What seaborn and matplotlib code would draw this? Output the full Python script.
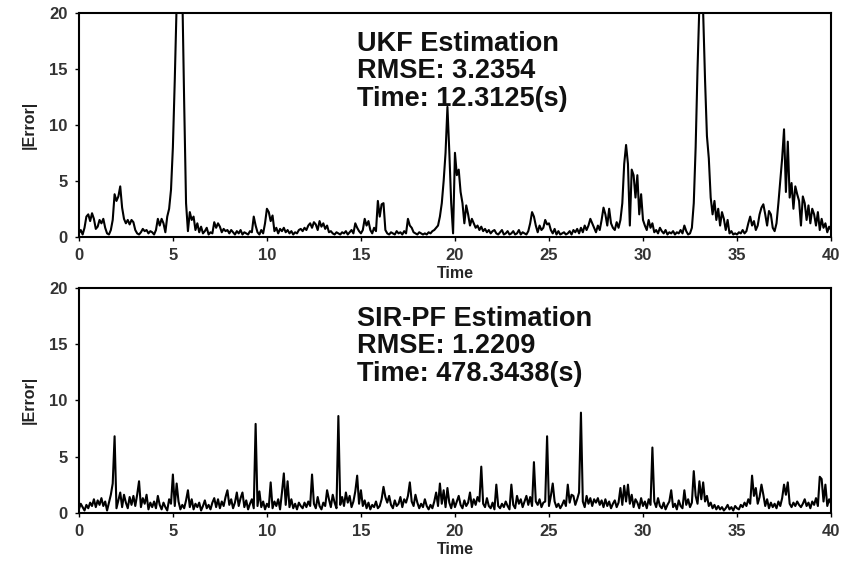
import numpy as np
import pandas as pd
import matplotlib
matplotlib.use("Agg")
import matplotlib.pyplot as plt
import seaborn as sns


LINEWIDTH = 1.5
LABEL_SIZE = 11.5
AXIS_TICK_SIZE = 12
NOTE_SIZE = 19.5

# sampling of the error signals, 0.1 s
time = np.round(np.arange(0, 401) * 0.1, 1)

ukf_error = [
    0.3, 0.6, 0.2, 0.8, 1.8, 2.0, 1.4, 2.1, 1.6, 0.7,
    0.9, 1.5, 1.2, 1.6, 0.8, 0.3, 0.2, 0.6, 1.5, 3.8,
    3.2, 3.6, 4.5, 2.6, 1.6, 1.2, 1.5, 1.1, 1.5, 1.3,
    0.6, 0.3, 0.2, 0.4, 0.7, 0.5, 0.6, 0.3, 0.5, 0.4,
    0.2, 0.6, 1.6, 1.0, 1.6, 1.2, 0.4, 1.8, 2.5, 4.2,
    8.0, 14.0, 21.0, 25.0, 24.0, 22.0, 12.0, 3.0, 0.5, 2.2,
    1.5, 1.8, 0.6, 1.2, 0.4, 0.9, 0.3, 0.5, 0.8, 0.2,
    0.4, 0.3, 1.3, 0.8, 1.2, 0.9, 0.4, 0.7, 0.5, 0.6,
    0.3, 0.6, 0.4, 0.2, 0.5, 0.3, 0.6, 0.2, 0.4, 0.3,
    0.2, 0.5, 0.4, 1.8, 1.0, 0.4, 0.2, 0.6, 0.3, 1.2,
    2.5, 2.2, 1.4, 1.9, 0.5, 0.8, 0.3, 0.7, 0.5, 0.8,
    0.4, 0.6, 0.3, 0.5, 0.2, 0.4, 0.3, 0.6, 0.7, 0.5,
    0.8, 0.6, 1.0, 1.2, 0.8, 1.3, 1.1, 0.6, 1.4, 0.9,
    1.2, 0.7, 1.0, 0.4, 0.5, 0.3, 0.2, 0.4, 0.3, 0.2,
    0.4, 0.3, 0.5, 0.2, 0.4, 0.6, 0.3, 1.2, 0.8, 0.5,
    0.3, 0.6, 1.6, 1.0, 1.4, 0.6, 0.3, 0.8, 0.5, 3.2,
    1.8, 2.9, 3.0, 0.6, 0.3, 0.2, 0.4, 0.3, 0.2, 0.5,
    0.3, 0.4, 0.2, 0.5, 0.3, 1.6, 1.0, 0.8, 0.4, 0.3,
    0.2, 0.4, 0.3, 0.2, 0.3, 0.2, 0.4, 0.3, 0.5, 0.6,
    0.8, 1.0, 1.8, 3.0, 5.0, 7.5, 11.6, 7.6, 3.0, 0.3,
    7.5, 5.5, 6.0, 4.0, 3.0, 1.2, 2.8, 2.0, 1.0, 1.6,
    1.2, 0.8, 1.0, 0.6, 0.9, 0.5, 0.7, 0.4, 0.6, 0.3,
    0.5, 0.6, 0.3, 0.2, 0.4, 0.6, 0.2, 0.3, 0.5, 0.2,
    0.3, 0.5, 0.2, 0.3, 0.6, 0.2, 0.4, 0.3, 0.2, 0.5,
    1.2, 2.2, 1.8, 1.0, 0.4, 1.0, 0.6, 0.8, 1.5, 1.1,
    1.2, 0.6, 0.3, 0.7, 0.2, 0.5, 0.2, 0.3, 0.4, 0.2,
    0.3, 0.5, 0.2, 0.6, 0.4, 0.7, 0.3, 0.8, 0.4, 1.0,
    0.6, 1.0, 1.6, 1.2, 0.8, 0.4, 1.0, 0.6, 1.5, 2.6,
    2.0, 1.0, 2.5, 1.2, 0.8, 0.6, 1.3, 0.8, 1.5, 3.0,
    6.5, 8.2, 6.5, 1.0, 6.0, 5.5, 3.5, 5.5, 2.0, 3.8,
    1.5, 1.0, 0.6, 1.5, 0.8, 1.2, 0.4, 0.6, 0.3, 0.8,
    0.5, 0.3, 0.6, 0.2, 0.4, 0.3, 0.5, 0.2, 0.4, 0.3,
    0.6, 0.3, 1.0, 0.5, 0.2, 0.3, 0.8, 3.0, 8.0, 15.0,
    21.0, 24.0, 20.0, 14.0, 9.0, 7.0, 3.5, 2.0, 3.2, 1.5,
    2.5, 1.0, 2.2, 1.6, 0.6, 1.5, 0.3, 0.5, 0.2, 0.3,
    0.2, 0.4, 0.3, 0.6, 0.3, 0.5, 1.2, 1.8, 1.0, 1.4,
    0.6, 1.0, 2.0, 2.6, 2.9, 2.0, 1.0, 2.3, 2.0, 0.8,
    0.5, 1.2, 3.0, 5.0, 7.0, 9.6, 4.0, 8.5, 3.5, 4.8,
    2.5, 4.5, 3.8, 3.2, 1.0, 3.6, 3.0, 1.5, 2.8, 1.2,
    2.5, 2.0, 1.0, 2.2, 0.6, 1.6, 0.8, 1.2, 0.4, 0.9,
    0.6,
]

pf_error = [
    0.3, 0.8, 0.5, 0.2, 0.7, 0.4, 0.9, 0.6, 1.2, 0.5,
    1.1, 0.7, 1.3, 0.6, 1.0, 0.2, 0.9, 1.6, 2.6, 6.8,
    0.4, 1.1, 1.8, 0.5, 1.6, 0.9, 0.4, 1.4, 0.7, 1.5,
    0.6, 1.6, 2.8, 0.5, 1.3, 0.8, 1.6, 0.3, 0.9, 0.5,
    1.0, 0.4, 1.5, 0.7, 0.3, 0.9, 0.5, 0.2, 1.2, 0.8,
    3.4, 0.6, 2.6, 1.0, 0.3, 0.7, 0.4, 1.1, 2.0, 0.5,
    1.2, 0.3, 0.8, 0.5, 0.9, 0.2, 0.6, 1.1, 0.4, 0.7,
    0.3, 0.9, 1.3, 0.5, 1.2, 0.4, 1.0, 0.6, 1.4, 2.0,
    0.7, 1.2, 0.4, 0.9, 1.8, 0.6, 1.3, 1.8, 0.5, 1.1,
    0.3, 0.8, 1.2, 0.4, 7.9, 0.6, 1.9, 0.5, 1.0, 0.3,
    0.8, 0.5, 2.7, 0.4, 1.0, 0.6, 1.2, 0.3, 1.8, 3.5,
    0.7, 2.8, 0.5, 1.2, 0.4, 0.8, 0.3, 0.9, 0.6, 0.4,
    0.9, 0.5, 1.0, 0.6, 3.4, 0.8, 0.4, 1.4, 0.6, 0.3,
    0.9, 0.6, 2.0, 1.2, 0.5, 1.6, 0.9, 0.4, 8.6, 0.7,
    1.4, 0.6, 1.8, 0.9, 1.5, 0.5, 1.0, 1.9, 3.3, 0.8,
    2.0, 0.6, 1.1, 0.4, 0.9, 0.3, 0.7, 0.5, 1.0, 0.4,
    0.6, 1.2, 2.3, 1.4, 0.9, 1.5, 0.7, 0.4, 1.1, 0.6,
    0.8, 1.4, 0.5, 1.2, 0.9, 1.5, 2.7, 1.0, 0.6, 1.6,
    0.9, 0.4, 0.8, 0.5, 1.2, 0.6, 0.3, 0.7, 0.4, 1.0,
    1.8, 0.6, 2.6, 0.8, 2.0, 0.5, 2.2, 0.9, 0.4, 1.2,
    0.5, 1.0, 1.5, 0.7, 0.4, 1.1, 0.6, 0.9, 1.8, 0.5,
    1.2, 0.7, 1.4, 1.0, 4.1, 0.8, 0.5, 1.3, 0.6, 0.4,
    0.9, 0.3, 2.5, 0.6, 0.4, 0.8, 0.5, 1.0, 0.6, 0.3,
    2.5, 0.7, 0.4, 1.5, 0.8, 1.2, 0.5, 1.0, 1.5, 0.7,
    1.4, 0.6, 4.5, 1.0, 0.7, 1.2, 0.5, 0.9, 1.0, 6.8,
    0.6, 1.5, 2.6, 1.0, 0.5, 0.8, 0.4, 0.7, 1.1, 0.6,
    2.5, 0.9, 1.6, 1.5, 0.7, 1.2, 1.8, 8.9, 1.0, 0.5,
    1.5, 0.8, 1.3, 0.6, 1.2, 0.9, 1.3, 0.7, 1.1, 0.5,
    1.2, 0.6, 1.0, 0.4, 0.8, 1.1, 0.5, 0.9, 2.2, 0.7,
    2.4, 1.0, 2.5, 0.8, 1.6, 0.5, 1.2, 0.9, 0.4, 1.3,
    0.6, 1.0, 0.4, 1.2, 0.7, 5.8, 1.0, 0.5, 1.3, 0.6,
    0.4, 0.9, 0.3, 0.7, 1.0, 2.0, 0.5, 0.8, 0.3, 1.1,
    0.6, 0.4, 2.0, 0.7, 1.2, 0.5, 0.9, 3.7, 1.5, 0.8,
    2.8, 1.2, 2.7, 1.0, 1.5, 0.6, 0.9, 0.4, 0.7, 0.3,
    0.6, 0.3, 0.5, 0.2, 0.4, 0.7, 0.3, 0.5, 0.2, 0.6,
    0.4, 0.3, 0.7, 0.5, 0.9, 0.6, 1.2, 0.8, 3.3, 1.5,
    2.2, 0.8, 1.4, 2.5, 1.6, 0.6, 1.2, 0.4, 0.9, 0.5,
    0.8, 0.4, 1.0, 0.6, 1.3, 2.5, 1.6, 2.7, 0.8, 0.5,
    0.9, 0.6, 1.0, 0.7, 0.5, 0.8, 1.2, 0.6, 0.9, 0.4,
    1.0, 0.7, 1.3, 0.6, 3.2, 3.0, 1.0, 2.5, 0.6, 1.2,
    0.8,
]

notes = [
    "UKF Estimation\nRMSE: 3.2354\nTime: 12.3125(s)",
    "SIR-PF Estimation\nRMSE: 1.2209\nTime: 478.3438(s)",
]
x_ticks = [0, 5, 10, 15, 20, 25, 30, 35, 40]
y_ticks = [0, 5, 10, 15, 20]


sns.set_theme(style="white")
plt.rcParams['font.family'] = ['Liberation Sans', 'DejaVu Sans']

fig = plt.figure(figsize=(8.48, 5.61), dpi=100)
ax_top = fig.add_axes([0.093, 0.578, 0.887, 0.399])
ax_bot = fig.add_axes([0.093, 0.086, 0.887, 0.401])

frames = [
    pd.DataFrame({"time": time, "error": ukf_error}),
    pd.DataFrame({"time": time, "error": pf_error}),
]

for axes, df, note in zip([ax_top, ax_bot], frames, notes):
    sns.lineplot(ax=axes, data=df, x="time", y="error", color="black",
                 linewidth=LINEWIDTH, estimator=None, sort=False)
    axes.set_xlim(0, 40)
    axes.set_ylim(0, 20)
    axes.set_xticks(x_ticks)
    axes.set_yticks(y_ticks)
    axes.set_xticklabels([str(v) for v in x_ticks], size=AXIS_TICK_SIZE,
                         fontweight="bold", color="#333333")
    axes.set_yticklabels([str(v) for v in y_ticks], size=AXIS_TICK_SIZE,
                         fontweight="bold", color="#333333")
    axes.tick_params(axis="both", direction="out", length=3, width=1,
                     color="black", pad=5, bottom=True, left=True)
    axes.set_xlabel("Time", fontsize=LABEL_SIZE, fontweight="bold", labelpad=2)
    axes.set_ylabel("|Error|", fontsize=LABEL_SIZE, fontweight="bold",
                    color="#222222", labelpad=9)
    for spine in axes.spines.values():
        spine.set_color("black")
        spine.set_linewidth(1.5)
    axes.text(14.8, 18.4, note, fontsize=NOTE_SIZE, fontweight="bold",
              va="top", ha="left", linespacing=1.08, color="#111111")

fig.savefig("out.png", dpi=100)
